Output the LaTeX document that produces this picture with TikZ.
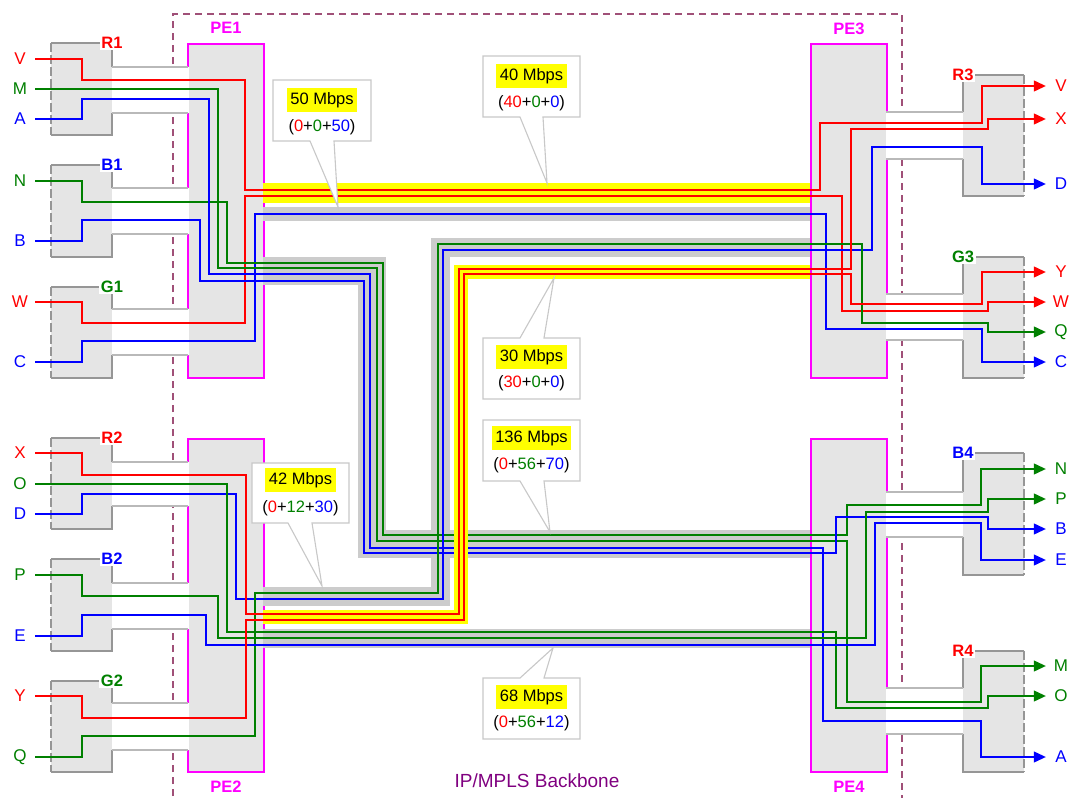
\documentclass[tikz,border=0pt]{standalone}
\usepackage{fontspec}
\setmainfont{Liberation Sans}
\usetikzlibrary{arrows.meta}
\definecolor{lred}{RGB}{255,0,0}
\definecolor{lgreen}{RGB}{0,128,0}
\definecolor{lblue}{RGB}{0,0,255}
\definecolor{pemag}{RGB}{255,0,255}
\definecolor{bbcol}{RGB}{160,80,120}
\definecolor{mplscol}{RGB}{128,0,128}
\definecolor{cefillc}{RGB}{229,229,229}
\definecolor{ceedgec}{RGB}{150,150,150}
\definecolor{bandedgec}{RGB}{185,185,185}
\definecolor{tungray}{RGB}{204,204,204}
\definecolor{tunyellow}{RGB}{255,255,0}
\definecolor{callgray}{RGB}{200,200,200}
\newcommand{\rtx}[1]{\textcolor{lred}{#1}}
\newcommand{\gtx}[1]{\textcolor{lgreen}{#1}}
\newcommand{\btx}[1]{\textcolor{lblue}{#1}}
\newcommand{\ceLeft}[7]{%
  \fill[cefillc] (51,#4) rectangle (112,#5);
  \draw[ceedge] (112,#6) -- (112,#4) -- (51,#4);
  \draw[ceedash] (51,#4) -- (51,#5);
  \draw[ceedge] (51,#5) -- (112,#5) -- (112,#7);
  \fill[white] (112,#6) rectangle (189,#7);
  \draw[bandedge] (112,#6) -- (188,#6) (112,#7) -- (188,#7);
  \node[celab, text=#3] (#1) at (112,#4) {#2};
}
\newcommand{\ceRight}[7]{%
  \fill[cefillc] (963,#4) rectangle (1024,#5);
  \draw[ceedge] (963,#6) -- (963,#4) -- (1024,#4);
  \draw[ceedash] (1024,#4) -- (1024,#5);
  \draw[ceedge] (1024,#5) -- (963,#5) -- (963,#7);
  \fill[white] (886,#6) rectangle (963,#7);
  \draw[bandedge] (886,#6) -- (963,#6) (886,#7) -- (963,#7);
  \node[celab, text=#3] (#1) at (963,#4) {#2};
}
\begin{document}
\begin{tikzpicture}[x=1pt,y=-1pt,
  ceedge/.style={draw=ceedgec, line width=1.3pt},
  ceedash/.style={draw=ceedgec, line width=1.3pt, dash pattern=on 9pt off 3pt},
  bandedge/.style={draw=bandedgec, line width=1.3pt},
  celab/.style={font=\fontsize{16.5}{19}\selectfont\bfseries, fill=white, inner sep=1.5pt},
  pelab/.style={font=\fontsize{16.5}{19}\selectfont\bfseries, text=pemag, inner sep=1pt},
  pebox/.style={fill=cefillc, draw=pemag, line width=1.6pt},
  bb/.style={draw=bbcol, line width=1.5pt, dash pattern=on 7pt off 5pt},
  gband/.style={draw=tungray},
  yband/.style={draw=tunyellow},
  ln/.style={line width=1.2pt},
  rl/.style={ln, draw=lred},
  gl/.style={ln, draw=lgreen},
  bl/.style={ln, draw=lblue},
  arr/.style={-{Triangle[length=12pt,width=11pt]}},
  lab/.style={font=\fontsize{17}{19}\selectfont, minimum width=30pt, inner sep=0pt},
  callbox/.style={fill=white, draw=callgray, line width=1.1pt},
  hl/.style={font=\fontsize{16.5}{19}\selectfont, fill=tunyellow, inner xsep=3.5pt, inner ysep=4pt},
  ctxt/.style={font=\fontsize{16.5}{19}\selectfont, inner sep=1pt}
]
\useasboundingbox (0,0) rectangle (1072,798);
\fill[white] (0,0) rectangle (1072,798);

% backbone
\draw[bb] (173,820) -- (173,14) -- (902,14) -- (902,820);
\node[font=\fontsize{19}{22}\selectfont, text=mplscol] (mpls) at (537,781) {IP/MPLS Backbone};

% PE routers
\draw[pebox] (188,44) rectangle (264,378);
\draw[pebox] (188,439) rectangle (264,772);
\draw[pebox] (811,44) rectangle (887,378);
\draw[pebox] (811,439) rectangle (887,772);
\node[pelab] (pe1) at (226,28) {PE1};
\node[pelab] (pe2) at (226,787) {PE2};
\node[pelab] (pe3) at (849,29) {PE3};
\node[pelab] (pe4) at (849,787) {PE4};

% CE routers
\ceLeft{r1}{R1}{lred}{43}{135}{67}{113}
\ceLeft{b1}{B1}{lblue}{165}{257}{188}{234}
\ceLeft{g1}{G1}{lgreen}{287}{378}{309}{355}
\ceLeft{r2}{R2}{lred}{438}{529}{462}{506}
\ceLeft{b2}{B2}{lblue}{559}{651}{583}{629}
\ceLeft{g2}{G2}{lgreen}{681}{772}{703}{750}
\ceRight{r3}{R3}{lred}{75}{196}{112}{159}
\ceRight{g3}{G3}{lgreen}{257}{378}{294}{340}
\ceRight{b4}{B4}{lblue}{453}{575}{492}{537}
\ceRight{r4}{R4}{lred}{651}{772}{688}{734}

% left labels
\node[lab, text=lred] (lV) at (20,59) {V};
\node[lab, text=lgreen] (lM) at (20,89) {M};
\node[lab, text=lblue] (lA) at (20,119) {A};
\node[lab, text=lgreen] (lN) at (20,181) {N};
\node[lab, text=lblue] (lB) at (20,241) {B};
\node[lab, text=lred] (lW) at (20,302) {W};
\node[lab, text=lblue] (lC) at (20,362) {C};
\node[lab, text=lred] (lX) at (20,453) {X};
\node[lab, text=lgreen] (lO) at (20,484) {O};
\node[lab, text=lblue] (lD) at (20,514) {D};
\node[lab, text=lgreen] (lP) at (20,575) {P};
\node[lab, text=lblue] (lE) at (20,636) {E};
\node[lab, text=lred] (lY) at (20,696) {Y};
\node[lab, text=lgreen] (lQ) at (20,757) {Q};
% right labels
\node[lab, text=lred] (rV) at (1061,86) {V};
\node[lab, text=lred] (rX) at (1061,119) {X};
\node[lab, text=lblue] (rD) at (1061,184) {D};
\node[lab, text=lred] (rY) at (1061,272) {Y};
\node[lab, text=lred] (rW) at (1061,302) {W};
\node[lab, text=lgreen] (rQ) at (1061,332) {Q};
\node[lab, text=lblue] (rC) at (1061,362) {C};
\node[lab, text=lgreen] (rN) at (1061,469) {N};
\node[lab, text=lgreen] (rP) at (1061,499) {P};
\node[lab, text=lblue] (rB) at (1061,529) {B};
\node[lab, text=lblue] (rE) at (1061,560) {E};
\node[lab, text=lgreen] (rM) at (1061,666) {M};
\node[lab, text=lgreen] (rO) at (1061,696) {O};
\node[lab, text=lblue] (rA) at (1061,757) {A};

% tunnels
\draw[yband, line width=20pt] (263,193) -- (810,193);
\draw[gband, line width=14pt] (263,214) -- (810,214);
\draw[gband, line width=28pt] (263,271) -- (372,271) -- (372,544) -- (810,544);
\draw[gband, line width=19pt] (263,596.5) -- (440.5,596.5) -- (440.5,247.5) -- (810,247.5);
\draw[gband, line width=19pt] (263,638.5) -- (810,638.5);

% LSPs
\draw[rl, arr] (lV.east) -- (82,59) -- (82,80) -- (245,80) -- (245,190) -- (820,190) -- (820,123) -- (982,123) -- (982,86) -- (rV.west);
\draw[rl, arr] (lW.east) -- (82,302) -- (82,323) -- (245,323) -- (245,196) -- (842,196) -- (842,311) -- (988,311) -- (988,302) -- (rW.west);
\draw[bl, arr] (lC.east) -- (82,362) -- (82,341) -- (255,341) -- (255,214) -- (826,214) -- (826,329) -- (982,329) -- (982,362) -- (rC.west);
\draw[gl, arr] (lN.east) -- (82,181) -- (82,202) -- (227,202) -- (227,263) -- (383,263) -- (383,535) -- (847,535) -- (847,505) -- (981,505) -- (981,469) -- (rN.west);
\draw[gl, arr] (lM.east) -- (218,89) -- (218,268) -- (377,268) -- (377,541) -- (847,541) -- (847,702) -- (981,702) -- (981,666) -- (rM.west);
\draw[bl, arr] (lA.east) -- (82,119) -- (82,99) -- (209,99) -- (209,274) -- (370,274) -- (370,548) -- (823,548) -- (823,721) -- (981,721) -- (981,757) -- (rA.west);
\draw[bl, arr] (lB.east) -- (82,241) -- (82,220) -- (200,220) -- (200,281) -- (364,281) -- (364,553) -- (836,553) -- (836,517) -- (988,517) -- (988,529) -- (rB.west);
\draw[bl, arr] (lD.east) -- (82,514) -- (82,494) -- (236,494) -- (236,599) -- (443,599) -- (443,250) -- (872,250) -- (872,147) -- (982,147) -- (982,184) -- (rD.west);
\draw[gl, arr] (lQ.east) -- (82,757) -- (82,736) -- (255,736) -- (255,593) -- (438,593) -- (438,244) -- (862,244) -- (862,323) -- (988,323) -- (988,332) -- (rQ.west);
\draw[gl, arr] (lO.east) -- (227,484) -- (227,632) -- (836,632) -- (836,708) -- (988,708) -- (988,696) -- (rO.west);
\draw[gl, arr] (lP.east) -- (82,575) -- (82,596) -- (218,596) -- (218,638) -- (866,638) -- (866,512) -- (988,512) -- (988,499) -- (rP.west);
\draw[bl, arr] (lE.east) -- (82,636) -- (82,615) -- (206,615) -- (206,645) -- (875,645) -- (875,523) -- (981,523) -- (981,560) -- (rE.west);

\draw[yband, line width=14pt] (263,617) -- (461,617) -- (461,272) -- (810,272);
\draw[rl, arr] (lX.east) -- (82,453) -- (82,475) -- (246,475) -- (246,614) -- (459,614) -- (459,269) -- (851,269) -- (851,129) -- (988,129) -- (988,119) -- (rX.west);
\draw[rl, arr] (lY.east) -- (82,696) -- (82,718) -- (246,718) -- (246,620) -- (464,620) -- (464,274) -- (851,274) -- (851,304) -- (982,304) -- (982,272) -- (rY.west);

% callouts
\draw[callbox] (273,80) -- (371,80) -- (371,141) -- (334,141) -- (338,207) -- (310,141) -- (273,141) -- cycle;
\node[hl] (t50) at (322,100) {50 Mbps};
\node[ctxt] (s50) at (322,127) {(\rtx{0}+\gtx{0}+\btx{50})};

\draw[callbox] (483,56) -- (580,56) -- (580,117) -- (543,117) -- (547,183) -- (520,117) -- (483,117) -- cycle;
\node[hl] (t40) at (531.5,76) {40 Mbps};
\node[ctxt] (s40) at (531.5,103) {(\rtx{40}+\gtx{0}+\btx{0})};

\draw[callbox] (483,338) -- (520,338) -- (554,278) -- (544,338) -- (580,338) -- (580,399) -- (483,399) -- cycle;
\node[hl] (t30) at (531.5,357) {30 Mbps};
\node[ctxt] (s30) at (531.5,383) {(\rtx{30}+\gtx{0}+\btx{0})};

\draw[callbox] (483,420) -- (580,420) -- (580,481) -- (544,481) -- (550,532) -- (520,481) -- (483,481) -- cycle;
\node[hl] (t136) at (531.5,438) {136 Mbps};
\node[ctxt] (s136) at (531.5,465) {(\rtx{0}+\gtx{56}+\btx{70})};

\draw[callbox] (483,678) -- (520,678) -- (553,648) -- (544,678) -- (580,678) -- (580,739) -- (483,739) -- cycle;
\node[hl] (t68) at (531.5,697) {68 Mbps};
\node[ctxt] (s68) at (531.5,723) {(\rtx{0}+\gtx{56}+\btx{12})};

\draw[callbox] (252,463) -- (349,463) -- (349,523) -- (312,523) -- (322,586) -- (288,523) -- (252,523) -- cycle;
\node[hl] (t42) at (300.5,480) {42 Mbps};
\node[ctxt] (s42) at (300.5,508) {(\rtx{0}+\gtx{12}+\btx{30})};
\end{tikzpicture}
\end{document}
